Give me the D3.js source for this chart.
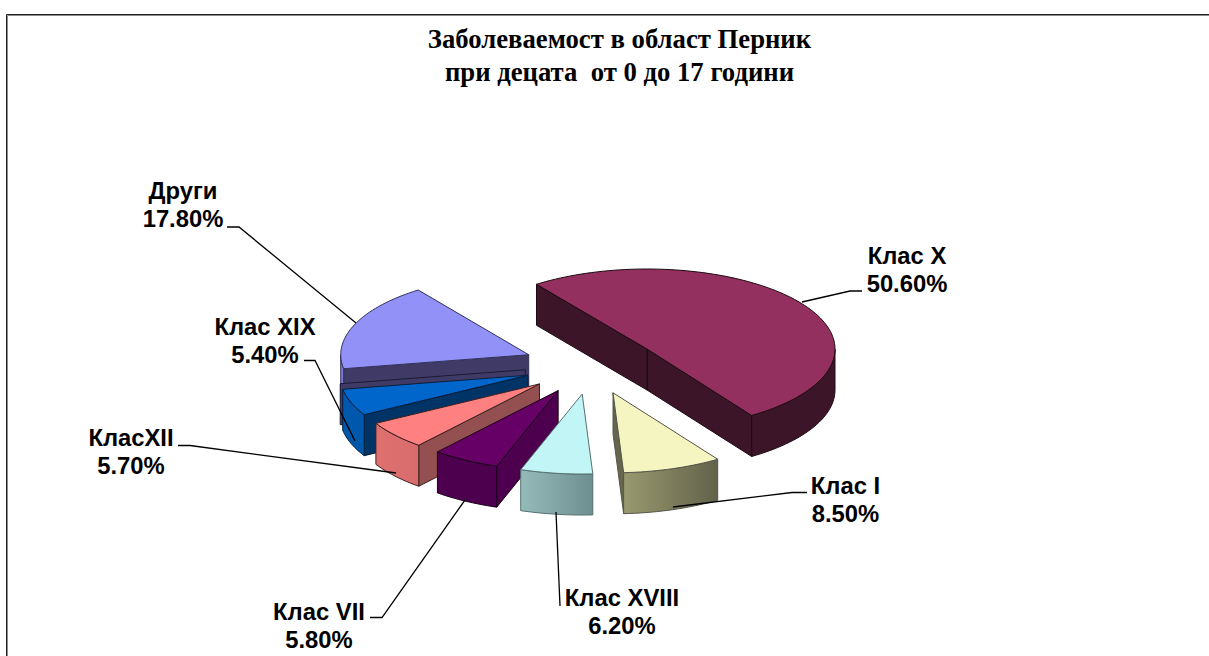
<!DOCTYPE html>
<html>
<head>
<meta charset="utf-8">
<style>
  html, body { margin: 0; padding: 0; background: #fff; overflow: hidden; }
  svg { display: block; }
  .label { font-family: "Liberation Sans", Arial, sans-serif; font-weight: bold; font-size: 23.8px; fill: #000; text-anchor: middle; }
  .title { font-family: "Liberation Serif", "Times New Roman", serif; font-weight: bold; font-size: 26.7px; fill: #000; text-anchor: middle; }
</style>
</head>
<body>
<div id="chart"></div>
<script src="https://cdn.jsdelivr.net/npm/d3@7"></script>
<script>
// data
var categories = ["Клас X", "Клас I", "Клас XVIII", "Клас VII", "КласXII", "Клас XIX", "Други"];
var percentages = [50.6, 8.5, 6.2, 5.8, 5.7, 5.4, 17.8];
var topColors = ["#933060", "#F5F5C2", "#C2F5F5", "#660066", "#FF8080", "#0066CC", "#9191F7"];
var sideColors = ["#3D1528", "#66664C", "#6E8F8F", "#4D004D", "#945050", "#003366", "#3F3B66"];
var rimLeftColors = ["#3D1528", "#99996F", "#95BABA", "#4D004D", "#E07070", "#0058AC", "#7A7AD0"];
var rimRightColors = ["#3D1528", "#62624A", "#6E8F8F", "#4D004D", "#D86C6C", "#0058AC", "#7A7AD0"];
var titleLines = ["Заболеваемост в област Перник", "при децата  от 0 до 17 години"];

var width = 1209, height = 656;

// pie projection
var cx = 591.5, cy = 365.5, rx = 188, ry = 80, depth = 41, explode = 0.36;
var firstAngle = -36 * Math.PI / 180;

var svg = d3.select("#chart").append("svg")
  .attr("width", width)
  .attr("height", height);

// Frame, dark line with a grey one inside it
svg.append("path")
  .attr("d", "M7.5," + height + "V15.5H" + width)
  .attr("fill", "none")
  .attr("stroke", "#8a8a8a")
  .attr("stroke-width", 1);
svg.append("path")
  .attr("d", "M6.5," + height + "V14.5H" + width)
  .attr("fill", "none")
  .attr("stroke", "#222")
  .attr("stroke-width", 1);

// Title
svg.selectAll(".title")
  .data(titleLines)
  .enter().append("text")
  .attr("class", "title")
  .style("white-space", "pre")
  .attr("x", 619.5)
  .attr("y", function(d, i) { return 47.5 + i * 33; })
  .text(function(d) { return d; });

var pie = d3.pie()
  .sort(null)
  .startAngle(firstAngle)
  .endAngle(firstAngle + 2 * Math.PI);

var slices = pie(percentages).map(function(d, i) {
  var mid = (d.startAngle + d.endAngle) / 2;
  return {
    i: i,
    a0: d.startAngle,
    a1: d.endAngle,
    ax: cx + explode * rx * Math.sin(mid),
    ay: cy - explode * ry * Math.cos(mid)
  };
});

function rimPoint(s, a, dz) {
  return [s.ax + rx * Math.sin(a), s.ay - ry * Math.cos(a) + (dz || 0)];
}

// sampled arc on the ellipse
function arcPoints(s, a0, a1, dz) {
  var n = Math.max(2, Math.ceil((a1 - a0) / 0.03)), pts = [];
  d3.range(n + 1).forEach(function(k) {
    pts.push(rimPoint(s, a0 + (a1 - a0) * k / n, dz));
  });
  return pts;
}

var poly = d3.line();

var defs = svg.append("defs");
slices.forEach(function(s) {
  var g = defs.append("linearGradient").attr("id", "rim" + s.i);
  g.append("stop").attr("offset", "0%").attr("stop-color", rimLeftColors[s.i]);
  g.append("stop").attr("offset", "100%").attr("stop-color", rimRightColors[s.i]);
});

// Back to front
var drawOrder = [6, 5, 4, 3, 2, 1, 0];
var strokeColor = ["#1c0a12", "#55554a", "#55706f", "#1a001a", "#3a2020", "#0a1f3a", "#33335a"];

drawOrder.forEach(function(idx) {
  var s = slices[idx];
  var g = svg.append("g");
  var stroke = strokeColor[idx];

  // stray back wall of the Клас XIX slice, the picture shows it shifted up and left
  if (categories[idx] === "Клас XIX") {
    var back = rimPoint(s, s.a1);
    g.append("path")
      .attr("transform", "translate(-2.5,-5.5)")
      .attr("d", poly([[s.ax, s.ay], back, [back[0], back[1] + depth], [s.ax, s.ay + depth]]) + "Z")
      .attr("fill", sideColors[6])
      .attr("stroke", "#1a1a33")
      .attr("stroke-width", 1);
  }

  // Radial walls that face the viewer
  [[s.a1, s.a1 + Math.PI / 2], [s.a0, s.a0 - Math.PI / 2]].forEach(function(w) {
    if (-Math.cos(w[1]) <= 0) return;
    var p = rimPoint(s, w[0]);
    g.append("path")
      .attr("d", poly([[s.ax, s.ay], p, [p[0], p[1] + depth], [s.ax, s.ay + depth]]) + "Z")
      .attr("fill", sideColors[idx])
      .attr("stroke", stroke)
      .attr("stroke-width", 1);
  });

  // Outer wall, front half of the ellipse only
  var lo = Math.max(s.a0, Math.PI / 2), hi = Math.min(s.a1, 3 * Math.PI / 2);
  if (hi > lo) {
    var upper = arcPoints(s, lo, hi, 0);
    var lower = arcPoints(s, lo, hi, depth).reverse();
    g.append("path")
      .attr("d", poly(upper.concat(lower)) + "Z")
      .attr("fill", "url(#rim" + idx + ")")
      .attr("stroke", stroke)
      .attr("stroke-width", 1);
  }

  // Top
  g.append("path")
    .attr("d", poly([[s.ax, s.ay]].concat(arcPoints(s, s.a0, s.a1, 0))) + "Z")
    .attr("fill", topColors[idx])
    .attr("stroke", stroke)
    .attr("stroke-width", 1);
});

// Leader lines
var leaderLines = [
  [[862, 291], [850, 291], [802, 302]],
  [[807, 492.5], [792, 492.5], [673, 507]],
  [[560, 606], [556, 512]],
  [[370, 617.5], [382, 617.5], [465, 500]],
  [[178, 445.5], [190, 445.5], [396, 473]],
  [[304, 360.5], [315, 360.5], [355, 441]],
  [[227, 227], [239, 227], [356, 323]]
];
svg.selectAll(".leader")
  .data(leaderLines)
  .enter().append("path")
  .attr("class", "leader")
  .attr("d", function(d) { return poly(d); })
  .attr("fill", "none")
  .attr("stroke", "#000")
  .attr("stroke-width", 1.3);

// Labels
var labelPos = [[907, 256], [845.5, 485.5], [622, 598], [319, 612], [131, 438], [265, 327], [183, 191]];
var labels = svg.selectAll(".label")
  .data(categories)
  .enter().append("text")
  .attr("class", "label")
  .attr("x", function(d, i) { return labelPos[i][0]; })
  .attr("y", function(d, i) { return labelPos[i][1] + 8; });
labels.append("tspan")
  .text(function(d) { return d; });
labels.append("tspan")
  .attr("x", function(d, i) { return labelPos[i][0]; })
  .attr("dy", 28)
  .text(function(d, i) { return percentages[i].toFixed(2) + "%"; });
</script>
</body>
</html>
